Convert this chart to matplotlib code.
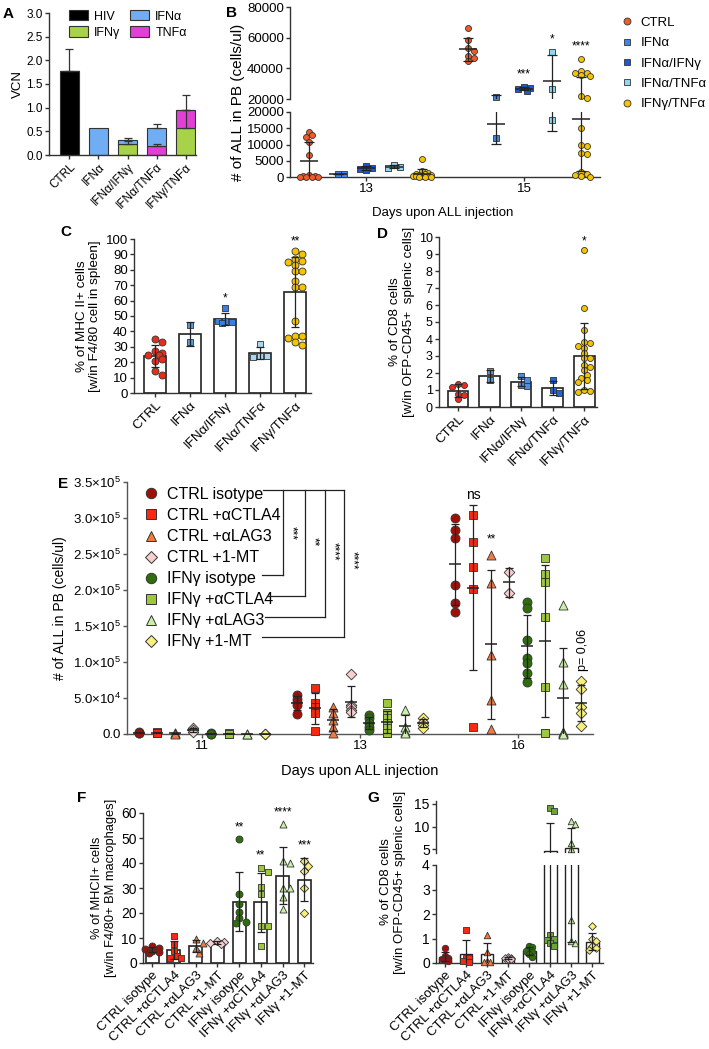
import numpy as np
import matplotlib
matplotlib.use("Agg")
import matplotlib.pyplot as plt
from matplotlib.lines import Line2D
from matplotlib.patches import Patch

plt.rcParams['font.family'] = ['Liberation Sans', 'DejaVu Sans']
plt.rcParams['mathtext.fontset'] = 'custom'
plt.rcParams['mathtext.rm'] = 'Liberation Sans'
plt.rcParams['font.size'] = 9

# ---------------- data ----------------
# A: VCN stacked bars
a_groups = ['CTRL', 'IFNα', 'IFNα/IFNγ', 'IFNα/TNFα', 'IFNγ/TNFα']
a_hiv = [1.77, 0, 0, 0, 0]
a_ifng = [0, 0, 0.23, 0, 0.57]
a_tnfa = [0, 0, 0, 0.19, 0.38]
a_ifna = [0, 0.58, 0.09, 0.38, 0]
a_hiv_sd = [0.46, 0, 0, 0, 0]
a_ifng_sd = [0, 0, 0.07, 0, 0.38]
a_tnfa_sd = [0, 0, 0, 0.04, 0.32]
a_ifna_sd = [0, 0, 0.03, 0.08, 0]

# B: ALL in PB, days 13 and 15
b_groups = ['CTRL', 'IFNα', 'IFNα/IFNγ', 'IFNα/TNFα', 'IFNγ/TNFα']
b_days = [13, 15]
b_d13 = [[14000, 12800, 12200, 10700, 6800, 500, 300, 200, 100, 50, 0, 0],
         [900, 900],
         [3500, 2800, 2600, 2200],
         [3600, 3000, 2900],
         [5500, 1800, 1300, 1000, 800, 600, 500, 400, 300, 200, 200, 100, 100, 50]]
b_d15 = [[66000, 58500, 53000, 51000, 48000, 47000, 44500],
         [21000, 11900],
         [28000, 27300, 26500, 25200],
         [50700, 26200, 17400],
         [46200, 38400, 37000, 36800, 35500, 34700, 21800, 20700, 15000,
          10000, 9500, 7500, 7000, 1500, 1000, 500, 200, 0]]
b_stars15 = ['', '', '***', '*', '****']

# C: MHC II+ in spleen
c_vals = [[35, 33, 27, 26, 25, 25, 21, 22, 14, 11.5],
          [44, 33],
          [55, 47, 46, 46.5, 45.5],
          [31.5, 24, 24, 23.5],
          [92, 90, 87, 86, 85, 83, 79, 79, 73, 69, 69, 47, 37, 37, 36, 33, 31]]
c_stars = ['', '', '*', '', '**']

# D: CD8 in spleen
d_vals = [[1.35, 1.3, 1.2, 0.75, 0.7, 0.45],
          [2.1, 1.6],
          [1.8, 1.6, 1.3, 1.25],
          [1.6, 1.0, 0.8],
          [9.25, 5.8, 4.55, 3.8, 3.75, 3.6, 3.5, 3.2, 2.9, 2.9, 2.5, 2.35, 2.15,
           1.9, 1.7, 1.6, 1.45, 1.0, 0.95, 0.9]]
d_stars = ['', '', '', '', '*']

# E: ALL in PB with checkpoint blockade
e_groups = ['CTRL isotype', 'CTRL +αCTLA4', 'CTRL +αLAG3', 'CTRL +1-MT',
            'IFNγ isotype', 'IFNγ +αCTLA4', 'IFNγ +αLAG3', 'IFNγ +1-MT']
e_days = ['11', '13', '16']
e_d11 = [[2500, 2000, 1500], [2500, 1500, 1000], [1000, 800, 500], [9000, 5000, 3000],
         [800, 600, 500], [800, 600, 500], [600, 400], [500, 300]]
e_d13 = [[54000, 48000, 44000, 40000, 28000],
         [64000, 43000, 38000, 29000, 4000],
         [38000, 29000, 19000, 10000, 1000],
         [83000, 40000, 38000, 34000, 30000],
         [26000, 22000, 15000, 10000, 6000],
         [43000, 29000, 22000, 15000, 8000, 1000, 1000],
         [33000, 10000, 3000, 1000],
         [22000, 17000, 13000, 8000]]
e_d16 = [[300000, 283000, 272000, 207000, 182000, 169000],
         [304000, 267000, 232000, 202000, 10000],
         [249000, 210000, 110000, 47000, 7000],
         [225000, 196000],
         [183000, 175000, 131000, 106000, 99000, 85000, 72000],
         [244000, 222000, 211000, 162000, 65000, 1000, 1000],
         [179000, 100000, 69000, 3000, 1000, 1000, 500],
         [74000, 62000, 38000, 29000, 11000]]
e_brackets = ['***', '**', '****', '****']

# F: MHCII+ BM macrophages
f_vals = [[7, 6.2, 5.5, 5, 4.5, 4],
          [11, 7.5, 5, 3, 2, 2],
          [9.5, 8, 6, 4],
          [9, 8.5, 8, 7.5],
          [49.5, 27.5, 23.5, 20.5, 18, 16.5, 16],
          [38, 36.5, 30.5, 27.5, 15, 15, 7],
          [55.5, 41, 40, 30, 30, 26.5, 21.5],
          [41, 39, 37, 30, 20]]
f_stars = ['', '', '', '', '**', '**', '****', '***']

# G: CD8 splenic
g_vals = [[0.6, 0.3, 0.2, 0.15, 0.15, 0.1],
          [1.35, 0.2, 0.2, 0.1, 0.05],
          [1.15, 0.45, 0.1, 0.05, 0.05],
          [0.25, 0.2, 0.2, 0.15, 0.15],
          [0.7, 0.65, 0.5, 0.45, 0.35, 0.25],
          [14, 13.5, 1.15, 1.0, 0.95, 0.8, 0.7],
          [11.2, 10.5, 6.5, 5.0, 1.75, 0.9, 0.8],
          [1.5, 1.0, 0.9, 0.7, 0.6, 0.55]]

# colours / markers
b_colors = ['#f25a28', '#3f86e6', '#1a5ad6', '#8fd6f2', '#f5c400']
b_markers = ['o', 's', 's', 's', 'o']
c_colors = ['#ee2a1e', '#5b9be0', '#3a7fe6', '#a9d6f2', '#f5c400']
d_colors = ['#ee2a1e', '#5b9be0', '#4a8ee8', '#1f62e0', '#f5c400']
e_colors = ['#a01008', '#f52a10', '#f07a45', '#f8cfd0',
            '#2e6e0c', '#9dc83e', '#c9f0a6', '#f7f07a']
g_colors = list(e_colors)
g_colors[5] = '#6aa535'
e_markers = ['o', 's', '^', 'D', 'o', 's', '^', 'D']

W, H = 709, 1049
fig = plt.figure(figsize=(W / 100, H / 100), dpi=100)


def px_axes(x0, y0, x1, y1):
    return fig.add_axes([x0 / W, 1 - y1 / H, (x1 - x0) / W, (y1 - y0) / H])


def ftext(x, y, s, **kw):
    fig.text(x / W, 1 - y / H, s, **kw)


def fline(xs, ys, **kw):
    fig.add_artist(Line2D([x / W for x in xs], [1 - y / H for y in ys],
                          color='#222222', lw=0.9, **kw))


def style(ax, bottom=True, size=9, col='#333333'):
    ax.spines['top'].set_visible(False)
    ax.spines['right'].set_visible(False)
    ax.spines['bottom'].set_visible(bottom)
    for s in ['left', 'bottom']:
        ax.spines[s].set_linewidth(1.0)
        ax.spines[s].set_color(col)
    ax.tick_params(length=3, width=1, color=col, labelsize=size, pad=1.5)
    if not bottom:
        ax.tick_params(axis='x', bottom=False, labelbottom=False)
    ax.patch.set_alpha(0)


def swarm(ax, x0, vals, d, maxoff):
    # spread overlapping points sideways, in pixels, within +-maxoff
    tr = ax.transData
    pts = tr.transform(np.column_stack([np.full(len(vals), x0), vals]))
    step = d * 0.5
    ks = [0]
    k = 1
    while k * step <= maxoff:
        ks += [k, -k]
        k += 1
    placed = []
    for px, py in pts:
        best, bestd = px, -1
        for k in ks:
            cx = px + k * step
            md = min([np.hypot(cx - qx, py - qy) for qx, qy in placed] + [1e9])
            if md >= d * 0.8:
                best = cx
                break
            if md > bestd:
                best, bestd = cx, md
        placed.append((best, py))
    out = tr.inverted().transform(np.array(placed))
    return out[:, 0]


def dots(ax, x0, vals, color, marker, d, maxoff):
    vals = np.asarray(vals, float)
    xs = swarm(ax, x0, vals, d, maxoff)
    size = (d / 1.389) ** 2
    if marker == 'D':
        size *= 0.7
    ax.scatter(xs, vals, s=size, c=color, marker=marker, edgecolors='#333333',
               linewidths=0.6, zorder=3, clip_on=False)


def meansd(ax, x0, vals, mlen, cap, lw=0.9, mean_line=True):
    m = np.mean(vals)
    sd = np.std(vals, ddof=1) if len(vals) > 1 else 0
    ax.errorbar([x0], [m], yerr=[sd], fmt='none', ecolor='#222222', elinewidth=lw,
                capsize=cap, capthick=lw, zorder=4)
    if mean_line:
        ax.plot([x0], [m], marker='_', ms=mlen, mew=lw + 0.2, color='#222222', zorder=4)


# ---------------- A ----------------
ax = px_axes(49, 13, 196, 155)
style(ax, size=8.5)
xa = np.arange(len(a_groups))
bw = 0.65
bottom = np.zeros(len(a_groups))
segs = [('HIV', a_hiv, a_hiv_sd, '#000000'), ('IFNγ', a_ifng, a_ifng_sd, '#a8d24a'),
        ('TNFα', a_tnfa, a_tnfa_sd, '#e23fd6'), ('IFNα', a_ifna, a_ifna_sd, '#70adf2')]
for name, v, sd, col in segs:
    v = np.array(v)
    ax.bar(xa, v, bw, bottom=bottom, color=col, edgecolor='#333333', lw=0.8, zorder=2)
    top = bottom + v
    sd = np.array(sd)
    msk = sd > 0
    ax.errorbar(xa[msk], top[msk], yerr=[np.zeros(msk.sum()), sd[msk]], fmt='none',
                ecolor='#333333', elinewidth=0.9, capsize=3, capthick=0.9, zorder=3)
    bottom = top
ax.set_xlim(-0.7, 4.35)
ax.set_ylim(0, 3.0)
ax.set_yticks(np.arange(0, 3.01, 0.5))
ax.set_yticklabels([f'{t:.1f}' for t in np.arange(0, 3.01, 0.5)])
ax.set_xticks(xa)
ax.set_xticklabels(a_groups, rotation=45, ha='right', rotation_mode='anchor')
ax.set_ylabel('VCN', fontsize=9.5, labelpad=2)
hand = [Patch(facecolor=c, edgecolor='#333333', lw=0.8) for c in ['#000000', '#a8d24a', '#70adf2', '#e23fd6']]
ax.legend([hand[0], hand[1], hand[2], hand[3]], ['HIV', 'IFNγ', 'IFNα', 'TNFα'], ncol=2,
          loc='upper left', bbox_to_anchor=(0.06, 1.1), frameon=False, fontsize=9,
          handlelength=1.5, handleheight=0.9, columnspacing=0.8, handletextpad=0.5,
          labelspacing=0.3)
ftext(3, 18, 'A', fontsize=11, fontweight='bold')

# ---------------- B ----------------
axu = px_axes(290, 7, 600, 99)
axl = px_axes(290, 112, 600, 177)
style(axu, bottom=False, size=9.5)
style(axl, size=9.5)
for a in (axu, axl):
    a.set_xlim(12.04, 15.96)
axu.set_ylim(20000, 80000)
axl.set_ylim(0, 20000)
axu.set_yticks([20000, 40000, 60000, 80000])
axl.set_yticks([0, 5000, 10000, 15000, 20000])
axl.set_xticks(b_days)
axl.set_xticklabels([str(d) for d in b_days])
off = 0.357
for day, data in zip(b_days, [b_d13, b_d15]):
    for i, vals in enumerate(data):
        x0 = day + (i - 2) * off
        vals = np.array(vals, float)
        hi = vals[vals > 20000]
        lo = vals[vals <= 20000]
        if len(hi):
            dots(axu, x0, hi, b_colors[i], b_markers[i], 6, 9)
        if len(lo):
            dots(axl, x0, lo, b_colors[i], b_markers[i], 6, 9)
        for a in (axu, axl):
            meansd(a, x0, vals, 13, 3.5)
for i, s in enumerate(b_stars15):
    if s:
        v = np.array(b_d15[i], float)
        top = max(v.max(), v.mean() + v.std(ddof=1))
        axu.text(15 + (i - 2) * off, top + 4000, s, ha='center', va='bottom', fontsize=8.5)
ftext(238, 102, '# of ALL in PB (cells/ul)', rotation=90, ha='center', va='center', fontsize=11)
ftext(443, 213, 'Days upon ALL injection', ha='center', va='center', fontsize=9.5)
bh = [Line2D([], [], ls='none', marker=m, color=c, mec='#333333', mew=0.6, ms=5)
      for m, c in zip(b_markers, b_colors)]
fig.legend(bh, b_groups, loc='upper left', bbox_to_anchor=(614 / W, 1 - 10 / H),
           frameon=False, fontsize=9.5, handletextpad=0.5, labelspacing=0.62,
           borderpad=0, handlelength=1.0)
ftext(226, 17, 'B', fontsize=11, fontweight='bold')


def bar_panel(ax, vals, colors, markers, d, width, cap, stars, star_gap, maxoff):
    xs = np.arange(len(vals))
    means = [np.mean(v) for v in vals]
    ax.bar(xs, means, width, color='white', edgecolor='#222222', lw=1.2, zorder=1)
    for i, v in enumerate(vals):
        dots(ax, xs[i], v, colors[i], markers[i], d, maxoff)
        meansd(ax, xs[i], v, 0, cap, mean_line=False)
        if stars[i]:
            vv = np.array(v, float)
            top = max(vv.max(), vv.mean() + vv.std(ddof=1))
            ax.text(xs[i], top + star_gap, stars[i], ha='center', va='bottom', fontsize=8.5)
    return xs


# ---------------- C ----------------
ax = px_axes(134, 239, 311, 393)
style(ax, size=9.5)
ax.set_xlim(-0.6, 4.45)
ax.set_ylim(0, 100)
ax.set_yticks(np.arange(0, 101, 10))
xs = bar_panel(ax, c_vals, c_colors, b_markers, 7, 0.63, 3, c_stars, 2.5, 10)
ax.set_xticks(xs)
ax.set_xticklabels(b_groups, rotation=45, ha='right', rotation_mode='anchor', fontsize=9.5)
ax.set_ylabel('% of MHC II+ cells\n[w/in F4/80 cell in spleen]', fontsize=9.7, labelpad=3)
ftext(60, 236, 'C', fontsize=11, fontweight='bold')

# ---------------- D ----------------
ax = px_axes(439, 237, 597, 407)
style(ax, size=9)
ax.set_xlim(-0.6, 4.4)
ax.set_ylim(0, 10)
ax.set_yticks(np.arange(0, 11, 1))
xs = bar_panel(ax, d_vals, d_colors, b_markers, 6, 0.65, 3, d_stars, 0.15, 9)
ax.set_xticks(xs)
ax.set_xticklabels(b_groups, rotation=45, ha='right', rotation_mode='anchor', fontsize=9.5)
ax.set_ylabel('% of CD8 cells\n[w/in OFP-CD45+  splenic cells]', fontsize=9.7, labelpad=3)
ftext(377, 238, 'D', fontsize=11, fontweight='bold')

# ---------------- E ----------------
ax = px_axes(127, 482, 593, 734)
style(ax, size=9.5, col='#555555')
ax.set_xlim(-0.475, 2.475)
ax.set_ylim(0, 350000)
yt = np.arange(0, 350001, 50000)
ax.set_yticks(yt)
lab = ['0.0']
for t in yt[1:]:
    ex = int(np.floor(np.log10(t)))
    lab.append(r'$%.1f{\times}10^{%d}$' % (t / 10 ** ex, ex))
ax.set_yticklabels(lab)
ax.set_xticks([0, 1, 2])
ax.set_xticklabels(e_days, fontsize=9.5)
eoff = 0.114
for di, data in enumerate([e_d11, e_d13, e_d16]):
    for i, vals in enumerate(data):
        x0 = di + (i - 3.5) * eoff
        dots(ax, x0, vals, e_colors[i], e_markers[i], 9, 3)
        meansd(ax, x0, np.array(vals, float), 9, 3)
ax.text(2 + (1 - 3.5) * eoff, 322000, 'ns', ha='center', va='bottom', fontsize=10)
ax.text(2 + (2 - 3.5) * eoff, 262000, '**', ha='center', va='bottom', fontsize=8.5)
ax.text(2 + (7 - 3.5) * eoff + 0.01, 117000, 'p= 0,06', rotation=90, ha='center',
        va='center', fontsize=9)
ax.set_ylabel('# of ALL in PB (cells/ul)', fontsize=10, labelpad=4)
ftext(360, 771, 'Days upon ALL injection', ha='center', va='center', fontsize=10.5)
eh = [Line2D([], [], ls='none', marker=m, color=c, mec='#333333', mew=0.7,
             ms=(7.5 if m != 'D' else 6.2)) for m, c in zip(e_markers, e_colors)]
ax.legend(eh, e_groups, loc='upper left', bbox_to_anchor=(135 / W, 1 - 479 / H),
          bbox_transform=fig.transFigure, frameon=False, fontsize=11.5,
          handletextpad=0.5, labelspacing=0.38, borderpad=0, handlelength=1.0)
# comparison brackets
fline([263, 344], [490, 490])
bx = [283, 305, 325, 344]
by = [575, 596, 617, 637]
bs = [262, 267, 265, 262]
for k, s in enumerate(e_brackets):
    fline([bx[k], bx[k]], [490, by[k]])
    fline([bs[k], bx[k]], [by[k], by[k]])
    ftext(bx[k] + 8, 533 + 9 * k, s, rotation=270, ha='center', va='center', fontsize=8.5)
ftext(58, 484, 'E', fontsize=11, fontweight='bold', va='center')

# ---------------- F ----------------
ax = px_axes(143, 813, 313, 963)
style(ax, size=10)
ax.set_xlim(-0.42, 7.4)
ax.set_ylim(0, 60)
ax.set_yticks(np.arange(0, 61, 10))
xs = bar_panel(ax, f_vals, e_colors, e_markers, 7, 0.6, 3, f_stars, 2.5, 7)
ax.set_xticks(xs)
ax.set_xticklabels(e_groups, rotation=45, ha='right', rotation_mode='anchor', fontsize=9.5)
ax.set_ylabel('% of MHCII+ cells\n[w/in F4/80+ BM macrophages]', fontsize=9.3, labelpad=3)
ftext(77, 798, 'F', fontsize=11, fontweight='bold', va='center')

# ---------------- G ----------------
gu = px_axes(436, 801, 603, 853)
gl = px_axes(436, 865, 603, 963)
style(gu, bottom=False, size=10)
style(gl, size=10)
for a in (gu, gl):
    a.set_xlim(-0.42, 7.5)
gu.set_ylim(4.2, 15.6)
gl.set_ylim(0, 4.0)
gu.set_yticks([5, 10, 15])
gl.set_yticks([0, 1, 2, 3, 4])
xg = np.arange(len(g_vals))
gm = [np.mean(v) for v in g_vals]
for a in (gu, gl):
    a.bar(xg, gm, 0.6, color='white', edgecolor='#222222', lw=1.0, zorder=1)
for i, v in enumerate(g_vals):
    v = np.array(v, float)
    hi = v[v > 4.2]
    lo = v[v <= 4.2]
    if len(hi):
        dots(gu, xg[i], hi, g_colors[i], e_markers[i], 6.5, 6)
    if len(lo):
        dots(gl, xg[i], lo, g_colors[i], e_markers[i], 6.5, 6)
    for a in (gu, gl):
        meansd(a, xg[i], v, 0, 3, mean_line=False)
gl.set_xticks(xg)
gl.set_xticklabels(e_groups, rotation=45, ha='right', rotation_mode='anchor', fontsize=9.5)
ftext(393, 882, '% of CD8 cells\n[w/in OFP-CD45+ splenic cells]', rotation=90,
      ha='center', va='center', fontsize=9.5, multialignment='center')
ftext(367, 798, 'G', fontsize=11, fontweight='bold', va='center')

fig.savefig('out.png', dpi=100)
